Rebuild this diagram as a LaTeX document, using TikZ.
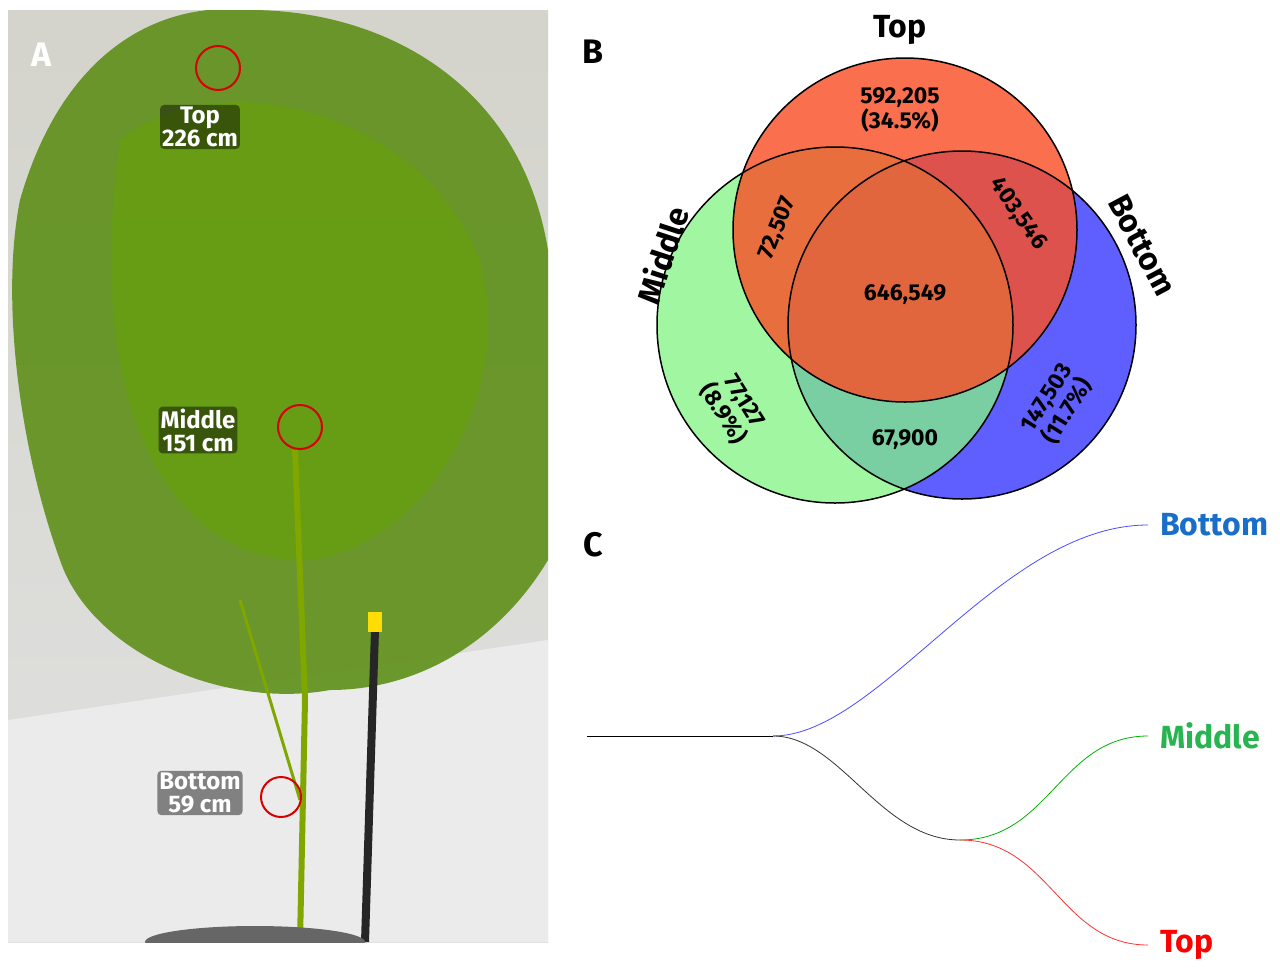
\documentclass[tikz,border=0pt]{standalone}
\usepackage{fontspec}
\setmainfont{Fira Sans}
\definecolor{topc}{RGB}{250,80,40}
\definecolor{midc}{RGB}{130,245,130}
\definecolor{botc}{RGB}{95,95,255}
\definecolor{cblue}{RGB}{25,110,200}
\definecolor{cgreen}{RGB}{40,180,80}
\begin{document}
\begin{tikzpicture}[x=1pt,y=-1pt,
  lbl/.style={font=\bfseries\fontsize{23}{25}\selectfont, align=center, inner sep=0},
  big/.style={font=\bfseries\fontsize{32}{34}\selectfont, inner sep=0},
  plab/.style={font=\bfseries\fontsize{34}{36}\selectfont, inner sep=0},
  photolab/.style={font=\bfseries\fontsize{24}{23}\selectfont, align=center, text=white, inner sep=2pt,
     fill=black, fill opacity=0.45, text opacity=1, rounded corners=4pt},
  ring/.style={draw=red!85!black, line width=2pt},
  set/.style={draw=black, line width=1.5pt},
  br/.style={line width=0.8pt}]
\useasboundingbox (0,0) rectangle (1280,978);
\fill[white] (0,0) rectangle (1280,978);
% ---- Panel A (photo, stylised)
\begin{scope}
\clip (8,10) rectangle (548,942);
\shade[top color=yellow!15!black!20!white, bottom color=black!12!white] (8,10) rectangle (548,942);
\fill[black!8] (8,720) -- (548,640) -- (548,942) -- (8,942) -- cycle;
\fill[green!30!black!70!yellow!90!white, opacity=0.9] (20,200) .. controls (60,60) and (150,0) .. (250,10)
  .. controls (380,10) and (520,80) .. (548,250) -- (548,560)
  .. controls (500,640) and (420,690) .. (330,690)
  .. controls (220,710) and (90,650) .. (60,560)
  .. controls (20,450) and (0,300) .. (20,200) -- cycle;
\fill[green!40!black!60!yellow, opacity=0.5] (120,140) .. controls (220,60) and (420,110) .. (480,260)
  .. controls (520,420) and (400,560) .. (300,560) .. controls (180,560) and (80,420) .. (120,140) -- cycle;
\draw[green!30!black!50!yellow, line width=6pt] (300,942) -- (305,700) -- (295,450);
\draw[green!30!black!50!yellow, line width=3pt] (300,800) -- (240,600);
\draw[black!85, line width=8pt] (365,942) -- (375,630);
\fill[yellow!80!orange] (368,612) rectangle (382,632);
\fill[black!60] (255,942) ellipse (110 and 16);
\end{scope}
\node[plab, text=white] (la) at (42,55) {A};
\draw[ring] (218,68) circle (22);
\draw[ring] (300,427) circle (22);
\draw[ring] (281,797) circle (20);
\node[photolab] (pt) at (200,127) {Top\\226 cm};
\node[photolab] (pm) at (198,430) {Middle\\151 cm};
\node[photolab] (pb) at (200,793) {Bottom\\59 cm};
% ---- Panel B
\node[plab] (lb) at (593,52) {B};
\fill[botc] (962,325) circle (174);
\fill[midc, fill opacity=0.75] (835,325) circle (178);
\fill[topc, fill opacity=0.82] (905,230) circle (172);
\draw[set] (835,325) circle (178);
\draw[set] (962,325) circle (174);
\draw[set] (905,230) circle (172);
\node[big] (tt) at (900,30) {Top};
\node[big, rotate=72] (tm) at (662,255) {Middle};
\node[big, rotate=-62] (tb) at (1142,245) {Bottom};
\node[lbl] (n1) at (900,110) {592,205\\(34.5\%)};
\node[lbl, rotate=68] (n2) at (778,228) {72,507};
\node[lbl, rotate=-55] (n3) at (1018,214) {403,546};
\node[lbl] (n4) at (905,295) {646,549};
\node[lbl, rotate=-58] (n5) at (733,408) {77,127\\(8.9\%)};
\node[lbl, rotate=58] (n6) at (1058,405) {147,503\\(11.7\%)};
\node[lbl] (n7) at (905,440) {67,900};
% ---- Panel C
\node[plab] (lc) at (593,545) {C};
\coordinate (r0) at (587,736);
\coordinate (r1) at (773,736);
\coordinate (r2) at (960,840);
\coordinate (eb) at (1148,525);
\coordinate (em) at (1148,736);
\coordinate (et) at (1148,945);
\draw[br] (r0) -- (r1);
\draw[br, blue!70] (r1) .. controls (880,736) and (1000,525) .. (eb);
\draw[br, black!80] (r1) .. controls (840,736) and (880,840) .. (r2);
\draw[br, green!70!black] (r2) .. controls (1050,840) and (1060,736) .. (em);
\draw[br, red!80] (r2) .. controls (1050,840) and (1060,945) .. (et);
\node[big, text=cblue, anchor=west] (cb) at (1160,525) {Bottom};
\node[big, text=cgreen, anchor=west] (cm) at (1160,736) {Middle};
\node[big, text=red, anchor=west] (ct) at (1160,945) {Top};
\end{tikzpicture}
\end{document}
